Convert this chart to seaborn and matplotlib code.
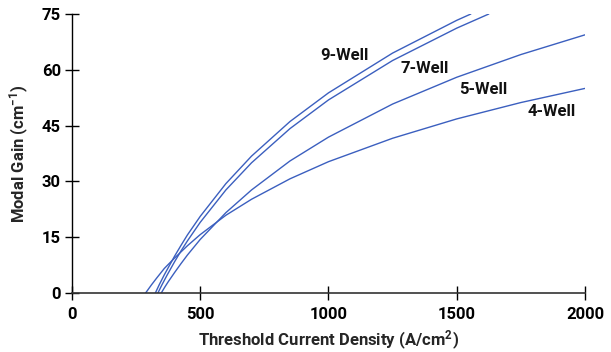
import pandas as pd
import matplotlib
matplotlib.use("Agg")
import matplotlib.pyplot as plt
import seaborn as sns

# ── DATA ──────────────────────────────────────────────────────────────────────
j_4well = [287, 310, 330, 360, 400, 450, 500, 600, 700, 850, 1000, 1250, 1500, 1750, 2000]
g_4well = [0.0, 2.2, 4.0, 6.6, 9.4, 12.7, 15.7, 20.9, 25.2, 30.7, 35.3, 41.6, 46.8, 51.2, 55.0]

j_5well = [348, 362, 375, 400, 425, 450, 500, 600, 700, 850, 1000, 1250, 1500, 1750, 2000]
g_5well = [0.0, 1.6, 3.0, 5.5, 7.9, 10.2, 14.4, 21.6, 27.7, 35.5, 41.9, 50.8, 58.0, 64.1, 69.4]

j_7well = [335, 350, 370, 400, 425, 450, 500, 600, 700, 850, 1000, 1250, 1500, 1625]
g_7well = [0.0, 2.1, 4.7, 8.4, 11.3, 14.0, 19.0, 27.7, 35.0, 44.2, 51.9, 62.5, 71.2, 75.0]

j_9well = [325, 340, 360, 400, 425, 450, 500, 600, 700, 850, 1000, 1250, 1500, 1555]
g_9well = [0.0, 2.2, 4.9, 9.9, 12.8, 15.6, 20.6, 29.4, 36.8, 46.1, 53.8, 64.5, 73.3, 75.0]

labels = ["4-Well", "5-Well", "7-Well", "9-Well"]
label_x = [1870, 1604, 1376, 1064]
label_y = [48.7, 54.7, 60.3, 63.9]

x_ticks = [0, 500, 1000, 1500, 2000]
y_ticks = [0, 15, 30, 45, 60, 75]

# ── STYLE ─────────────────────────────────────────────────────────────────────
sns.set_theme(style="white")
plt.rcParams.update({
    "font.family": ["Roboto", "DejaVu Sans"],
    "font.weight": "bold",
    "mathtext.default": "regular",
    "axes.spines.top": False,
    "axes.spines.right": False,
})
LINE = "#3b5fbf"

frames = []
for name, j, g in zip(labels, [j_4well, j_5well, j_7well, j_9well],
                      [g_4well, g_5well, g_7well, g_9well]):
    frames.append(pd.DataFrame({"J": j, "Gain": g, "Wells": name}))
df = pd.concat(frames, ignore_index=True)

fig = plt.figure(figsize=(6.11, 3.52), dpi=100)
ax = fig.add_axes([0.1178, 0.1676, 0.8396, 0.7926])

sns.lineplot(data=df, x="J", y="Gain", hue="Wells", units="Wells", estimator=None,
             palette=[LINE] * 4, linewidth=1.0, sort=False, legend=False, ax=ax)

for t, lx, ly in zip(labels, label_x, label_y):
    ax.text(lx, ly, t, ha="center", va="center", fontsize=12, fontweight="bold", color="#111111")

ax.set_xlim(0, 2000)
ax.set_ylim(0, 75)
ax.set_xticks(x_ticks)
ax.set_yticks(y_ticks)
ax.tick_params(bottom=True, left=True, direction="inout", length=10, width=1.0,
               colors="black", labelsize=12)
ax.tick_params(axis="x", pad=5)
ax.tick_params(axis="y", pad=3)
for lab in ax.get_xticklabels() + ax.get_yticklabels():
    lab.set_fontweight("bold")
ax.spines["left"].set_color("black")
ax.spines["bottom"].set_color("#333333")
ax.spines["left"].set_linewidth(1.0)
ax.spines["bottom"].set_linewidth(1.2)
ax.set_xlabel("Threshold Current Density (A/cm$^2$)", fontsize=12, fontweight="bold", labelpad=5)
ax.set_ylabel("Modal Gain (cm$^{-1}$)", fontsize=12, fontweight="bold", labelpad=8)
ax.grid(False)

fig.savefig("out.png", dpi=100)
